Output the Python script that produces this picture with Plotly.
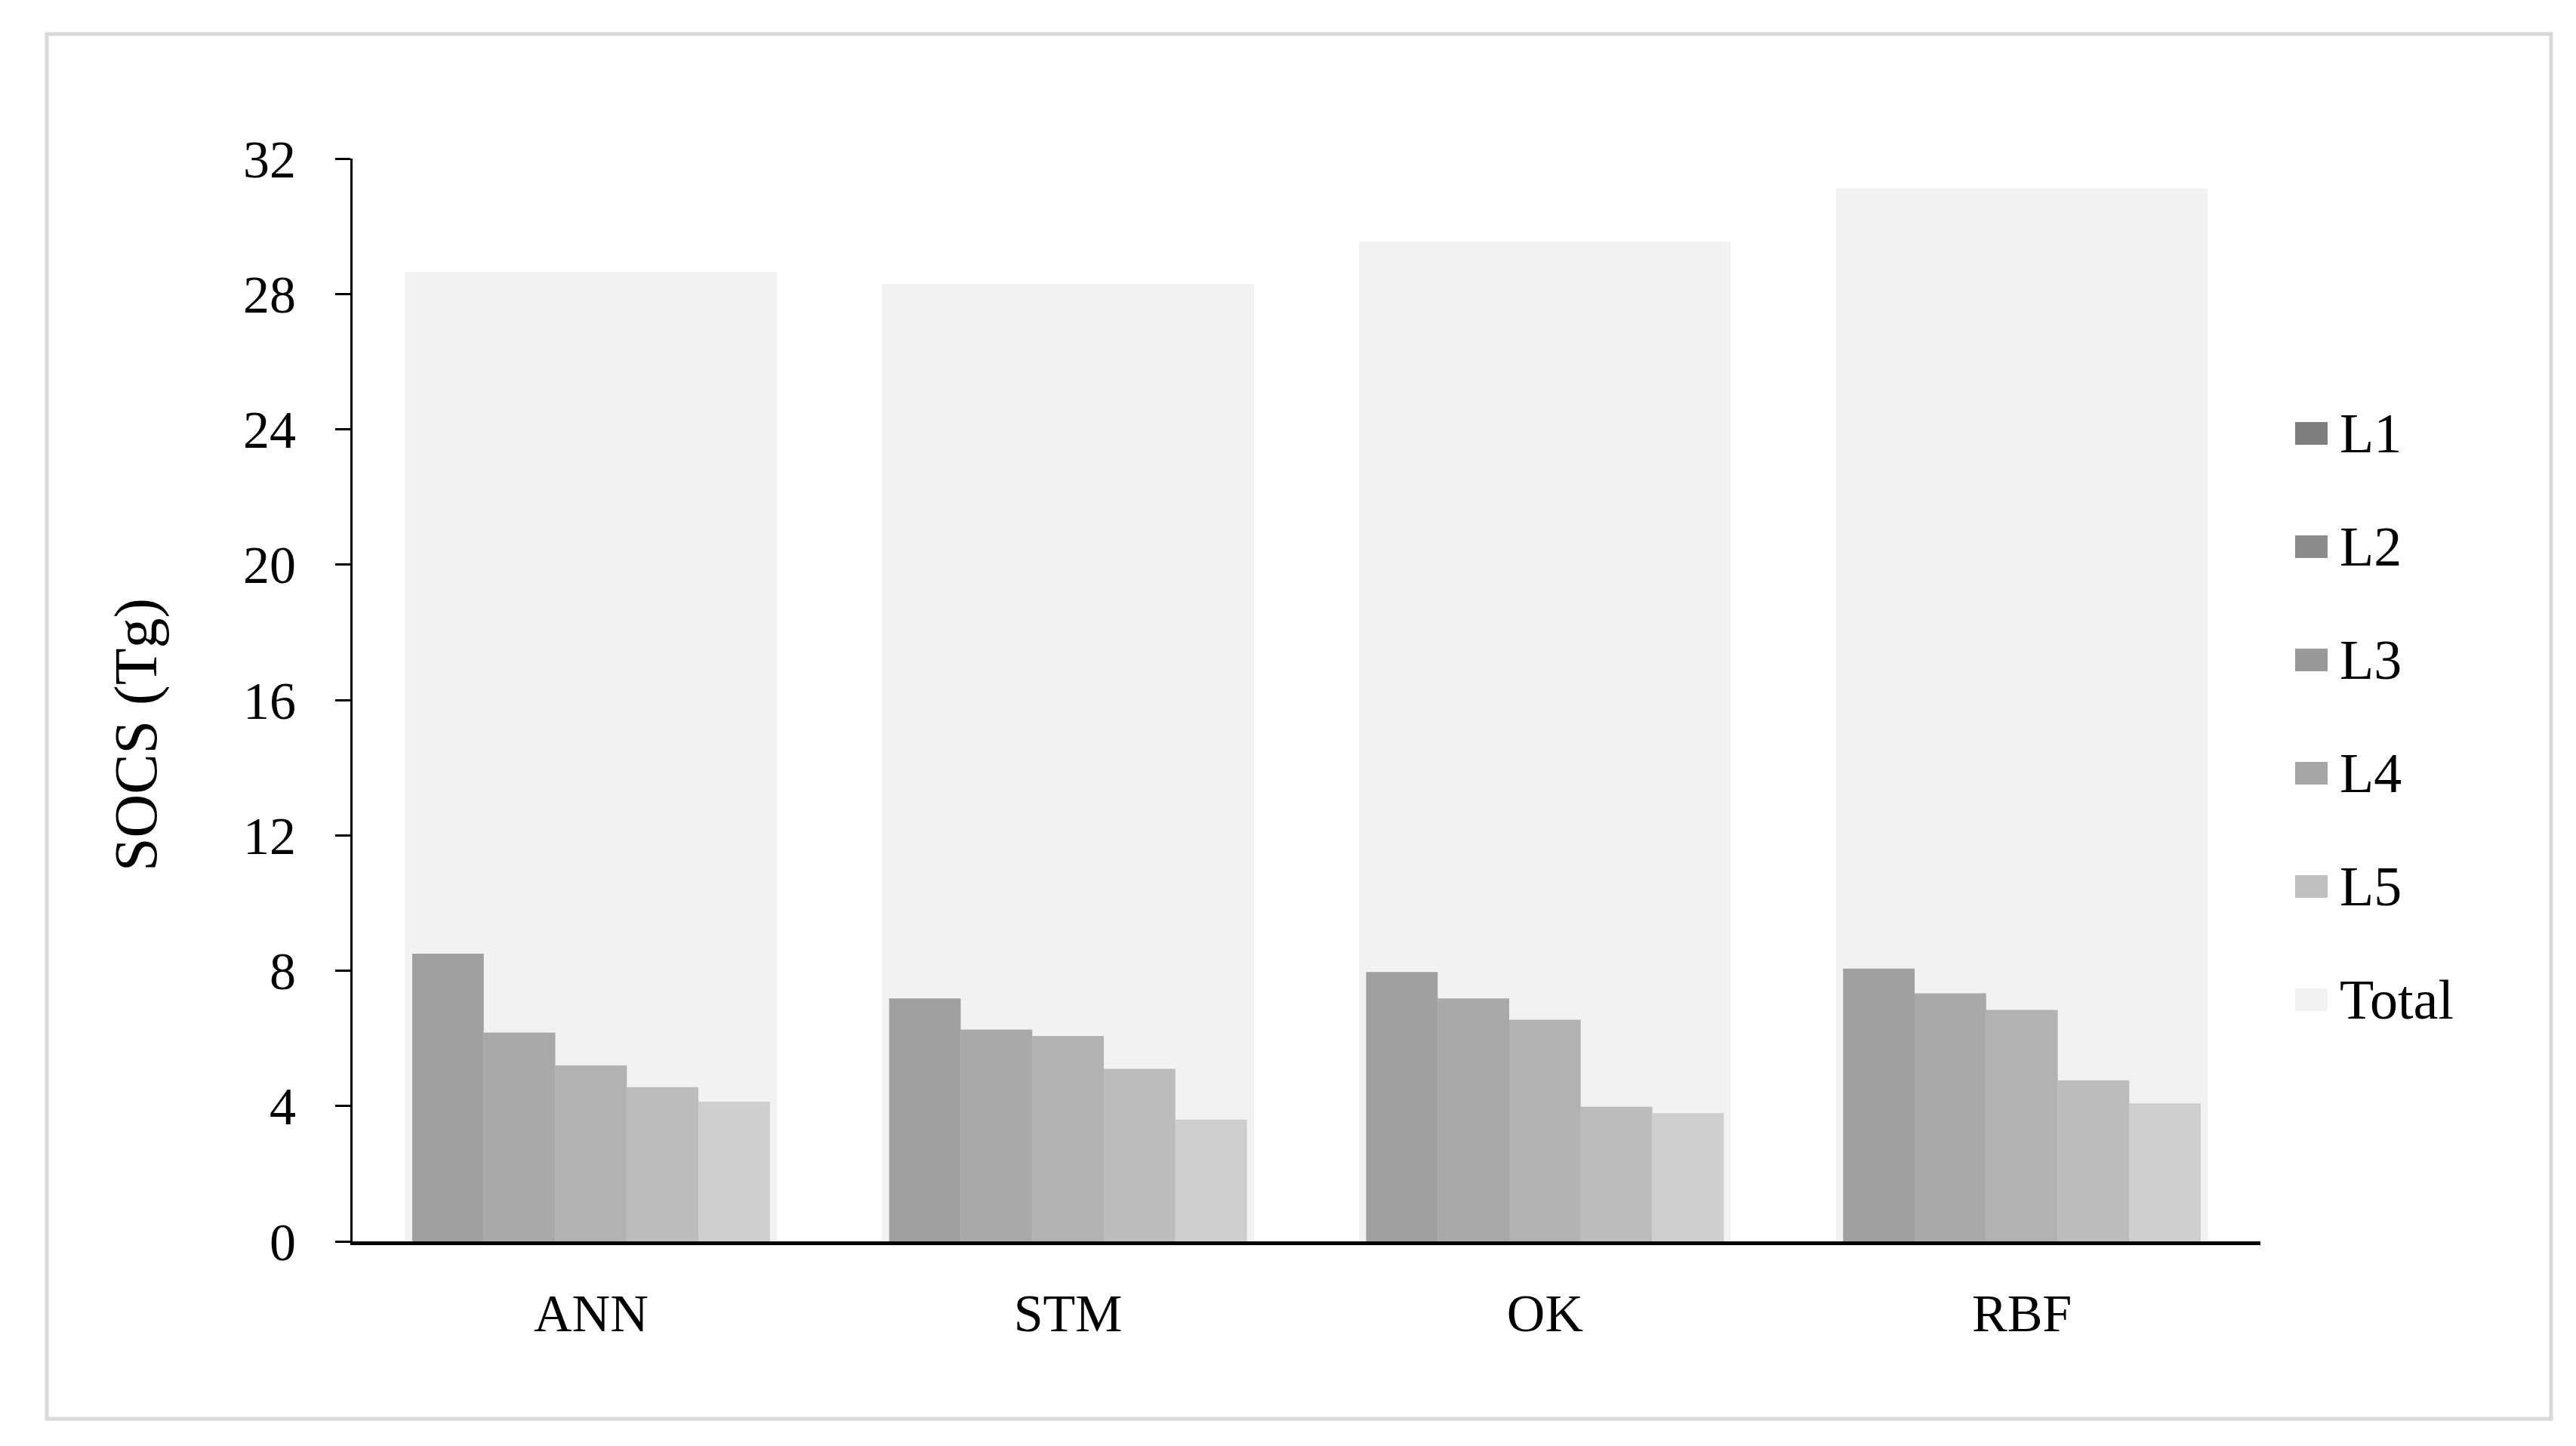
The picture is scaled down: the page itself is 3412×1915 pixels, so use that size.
import plotly.graph_objects as go

# ---- data ----
categories = ["ANN", "STM", "OK", "RBF"]
layers = ["L1", "L2", "L3", "L4", "L5"]
L1 = [8.50, 7.18, 7.96, 8.06]
L2 = [6.17, 6.26, 7.18, 7.33]
L3 = [5.20, 6.07, 6.55, 6.84]
L4 = [4.56, 5.10, 3.98, 4.76]
L5 = [4.13, 3.60, 3.79, 4.08]
Total = [28.66, 28.30, 29.55, 31.12]
y_ticks = [0, 4, 8, 12, 16, 20, 24, 28, 32]

layer_values = [L1, L2, L3, L4, L5]
layer_colors = ["#7f7f7f", "#8c8c8c", "#999999", "#a6a6a6", "#bfbfbf"]
total_color = "#f2f2f2"

W, H = 3412, 1915
ml, mr, mt, mb = 459, 3412 - 2986, 202, 1915 - 1636
FONT = "Liberation Serif, Times New Roman, serif"
FS = 70
LEG_FS = 74

xpos = list(range(len(categories)))

fig = go.Figure()

fig.add_trace(go.Bar(
    x=xpos, y=Total, name="Total", width=0.78,
    marker=dict(color=total_color, line=dict(width=0)),
    showlegend=False,
))

bw = 0.15
for i, (name, vals, col) in enumerate(zip(layers, layer_values, layer_colors)):
    fig.add_trace(go.Bar(
        x=xpos, y=vals, name=name, width=bw,
        offset=-2.5 * bw + i * bw,
        marker=dict(color=col, opacity=0.72, line=dict(width=0)),
        showlegend=False,
    ))

pw = W - ml - mr
ph = H - mt - mb

def px_to_paper_x(px):
    return (px - ml) / pw

def px_to_paper_y(py):
    return (H - mb - py) / ph

# legend (drawn as swatches + text)
legend_names = layers + ["Total"]
legend_colors = layer_colors + [total_color]
shapes = [dict(
    type="rect", xref="paper", yref="paper",
    x0=px_to_paper_x(54), x1=px_to_paper_x(3371),
    y0=px_to_paper_y(1871), y1=px_to_paper_y(37),
    line=dict(color="#d9d9d9", width=5), fillcolor="rgba(0,0,0,0)", layer="below",
)]
annotations = []
leg_y0, leg_dy = 566, 150
sw_x0, sw_x1, sw_h = 3032, 3075, 30
for k, (nm, col) in enumerate(zip(legend_names, legend_colors)):
    cy = leg_y0 + k * leg_dy
    shapes.append(dict(
        type="rect", xref="paper", yref="paper",
        x0=px_to_paper_x(sw_x0), x1=px_to_paper_x(sw_x1),
        y0=px_to_paper_y(cy + sw_h / 2), y1=px_to_paper_y(cy - sw_h / 2),
        line=dict(width=0), fillcolor=col,
    ))
    annotations.append(dict(
        text=nm, xref="paper", yref="paper",
        x=px_to_paper_x(3089), y=px_to_paper_y(cy),
        xanchor="left", yanchor="middle", showarrow=False,
        font=dict(family=FONT, size=LEG_FS, color="black"),
    ))

# y-axis title
annotations.append(dict(
    text="SOCS (Tg)", xref="paper", yref="paper",
    x=px_to_paper_x(172), y=px_to_paper_y(965),
    xanchor="center", yanchor="middle", textangle=-90, showarrow=False,
    font=dict(family=FONT, size=80, color="black"),
))

fig.update_layout(
    width=W, height=H,
    margin=dict(l=ml, r=mr, t=mt, b=mb, autoexpand=False),
    barmode="overlay",
    paper_bgcolor="white", plot_bgcolor="white",
    font=dict(family=FONT, size=FS, color="black"),
    showlegend=False,
    xaxis=dict(
        range=[-0.5, len(categories) - 0.5],
        tickvals=xpos, ticktext=categories,
        showgrid=False, zeroline=False,
        showline=True, linecolor="black", linewidth=5,
        ticks="", ticklabelstandoff=30,
        tickfont=dict(family=FONT, size=FS, color="black"),
        fixedrange=True,
    ),
    yaxis=dict(
        range=[0, 32], tickvals=y_ticks,
        showgrid=False, zeroline=False,
        showline=True, linecolor="black", linewidth=3,
        ticks="outside", ticklen=20, tickwidth=3, tickcolor="black",
        ticklabelstandoff=38,
        tickfont=dict(family=FONT, size=FS, color="black"),
        fixedrange=True,
    ),
    shapes=shapes,
    annotations=annotations,
)

fig.write_html("out.html")
